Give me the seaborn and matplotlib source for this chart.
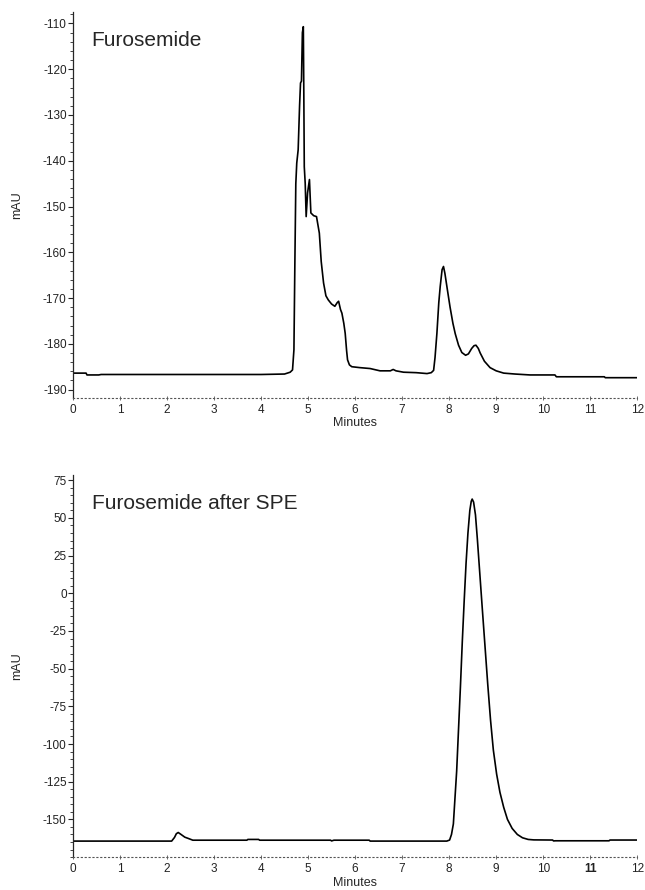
import matplotlib
matplotlib.use("Agg")
import matplotlib.pyplot as plt
import matplotlib.ticker as ticker
import seaborn as sns
import pandas as pd

# top chromatogram: Furosemide
top_minutes = [0.0, 0.28, 0.3, 0.55, 0.6, 2.0, 4.0, 4.5, 4.62, 4.67, 4.70, 4.72, 4.74,
               4.76, 4.79, 4.82, 4.84, 4.86, 4.88, 4.90, 4.91, 4.92, 4.94, 4.96, 4.99,
               5.03, 5.06, 5.12, 5.18, 5.24, 5.28, 5.33, 5.38, 5.43, 5.50, 5.57, 5.62,
               5.65, 5.69, 5.72, 5.76, 5.79, 5.82, 5.84, 5.88, 5.93, 6.1, 6.32, 6.53,
               6.75, 6.81, 6.87, 7.03, 7.3, 7.53, 7.62, 7.67, 7.70, 7.74, 7.78, 7.81,
               7.85, 7.88, 7.91, 7.96, 8.02, 8.08, 8.13, 8.2, 8.27, 8.35, 8.41, 8.48,
               8.53, 8.57, 8.62, 8.66, 8.75, 8.87, 9.0, 9.16, 9.4, 9.72, 10.25, 10.28,
               11.3, 11.32, 12.0]
top_mau = [-186.4, -186.4, -186.8, -186.8, -186.7, -186.7, -186.7, -186.6, -186.2, -185.7,
           -181.3, -162.3, -145.0, -140.5, -137.6, -128.0, -123.0, -122.6, -112.0, -110.7,
           -125.0, -141.3, -145.0, -152.2, -147.0, -144.1, -151.4, -152.0, -152.2, -155.8,
           -162.0, -166.7, -169.5, -170.4, -171.3, -171.8, -171.0, -170.7, -172.5, -173.3,
           -175.5, -177.7, -181.5, -183.5, -184.6, -185.0, -185.2, -185.4, -185.9, -185.9,
           -185.6, -185.9, -186.2, -186.3, -186.5, -186.3, -185.8, -183.0, -177.7, -171.0,
           -167.5, -163.8, -163.1, -164.6, -168.0, -172.0, -175.5, -177.8, -180.3, -181.9,
           -182.5, -182.2, -181.0, -180.4, -180.3, -181.0, -182.0, -183.8, -185.2, -185.9,
           -186.4, -186.6, -186.8, -186.8, -187.2, -187.2, -187.4, -187.4]

# bottom chromatogram: Furosemide after SPE
spe_minutes = [0.0, 2.1, 2.16, 2.2, 2.24, 2.3, 2.38, 2.45, 2.55, 3.7, 3.72, 3.95, 3.97,
               5.48, 5.5, 5.55, 6.3, 6.32, 7.95, 8.01, 8.05, 8.09, 8.12, 8.16, 8.20,
               8.24, 8.28, 8.32, 8.36, 8.40, 8.44, 8.47, 8.49, 8.52, 8.56, 8.60, 8.65,
               8.70, 8.76, 8.82, 8.88, 8.94, 9.01, 9.08, 9.16, 9.24, 9.34, 9.45, 9.56,
               9.68, 9.8, 10.2, 10.22, 10.26, 11.4, 11.42, 12.0]
spe_mau = [-164.4, -164.4, -162.0, -159.5, -158.7, -160.0, -161.8, -162.6, -163.8, -163.8,
           -163.3, -163.3, -163.8, -163.8, -164.3, -163.8, -163.8, -164.4, -164.4, -163.7,
           -160.0, -153.0, -138.0, -118.0, -90.0, -62.0, -32.0, -5.0, 20.0, 40.0, 55.0,
           61.0, 62.5, 60.5, 52.0, 36.0, 14.0, -8.0, -34.0, -60.0, -84.0, -104.0, -120.0,
           -132.0, -142.0, -150.0, -156.0, -160.0, -162.2, -163.3, -163.6, -163.7, -164.3,
           -164.2, -164.2, -163.7, -163.7]

top_yticks = [-110, -120, -130, -140, -150, -160, -170, -180, -190]
spe_yticks = [75, 50, 25, 0, -25, -50, -75, -100, -125, -150]
x_ticks = list(range(0, 13))


def draw_trace(ax, minutes, mau, title, ylim, yticks, minor_step):
    df = pd.DataFrame({"Minutes": minutes, "mAU": mau})
    sns.lineplot(data=df, x="Minutes", y="mAU", ax=ax, color="black",
                 linewidth=1.2, sort=False, estimator=None)
    ax.set_xlim(0, 12)
    ax.set_ylim(*ylim)
    ax.set_xticks(x_ticks)
    ax.set_yticks(yticks)
    ax.yaxis.set_minor_locator(ticker.MultipleLocator(minor_step))

    sns.despine(ax=ax)
    ax.spines["left"].set_linewidth(0.9)
    ax.spines["bottom"].set_linestyle((0, (1, 2.5)))
    ax.spines["bottom"].set_linewidth(0.8)
    ax.spines["bottom"].set_color("#555555")

    ax.tick_params(axis="y", which="major", length=3.5, width=0.8,
                   labelsize=8.5, labelcolor="#222222", pad=1)
    ax.tick_params(axis="y", which="minor", length=2, width=0.6)
    ax.tick_params(axis="x", which="major", length=3, width=0.6,
                   direction="inout", color="#555555",
                   labelsize=8.5, labelcolor="#222222", pad=3)

    ax.set_xlabel("Minutes", fontsize=9, labelpad=1)
    ax.set_ylabel("mAU", fontsize=9, labelpad=14)
    ax.text(0.033, 0.925, title, transform=ax.transAxes, fontsize=15,
            va="center", ha="left")


sns.set_style("ticks")
plt.rcParams["font.family"] = ["Liberation Sans", "DejaVu Sans"]
plt.rcParams["axes.unicode_minus"] = False

fig = plt.figure(figsize=(6.45, 8.9), dpi=100)
ax_top = fig.add_axes([0.113, 0.553, 0.875, 0.434])
ax_spe = fig.add_axes([0.113, 0.037, 0.875, 0.429])

draw_trace(ax_top, top_minutes, top_mau, "Furosemide",
           (-191.8, -107.4), top_yticks, 2)
draw_trace(ax_spe, spe_minutes, spe_mau, "Furosemide after SPE",
           (-175, 78.3), spe_yticks, 5)

# the scanned original shows the "11" tick label heavier than the rest
for lab in ax_spe.get_xticklabels():
    if lab.get_text() == "11":
        lab.set_fontweight("bold")

fig.savefig("out.png", dpi=100)
